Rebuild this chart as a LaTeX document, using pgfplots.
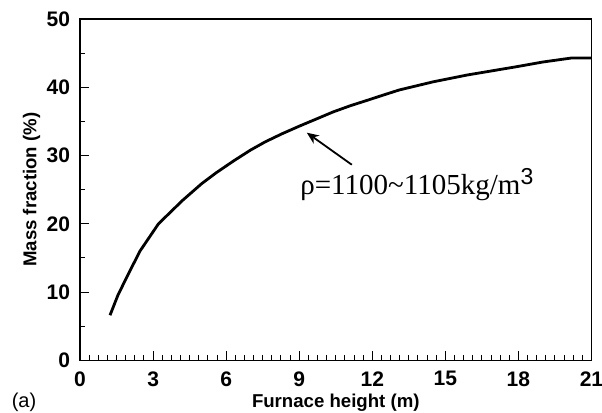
\documentclass[border=0pt]{standalone}
\usepackage{pgfplots}
\pgfplotsset{compat=1.18}
\usepackage{fontspec}
\setmainfont{Liberation Sans}
\newfontfamily\seriffont{Liberation Serif}
\usetikzlibrary{arrows.meta}
\begin{document}
\begin{tikzpicture}
\path[use as bounding box] (-40pt,-26pt) rectangle (260.75pt,180pt);
\begin{axis}[at={(0,0)}, anchor=south west, scale only axis,
  width=255.5pt, height=170.5pt,
  xmin=0, xmax=21, ymin=0, ymax=50,
  xtick={0,3,...,21}, ytick={0,10,...,50},
  minor x tick num=7, minor y tick num=1,
  tick pos=left, tick align=inside,
  major tick length=4.5pt, minor tick length=2.5pt,
  axis line style={line width=0.6pt},
  every tick/.style={line width=0.5pt, black},
  /pgf/number format/assume math mode=true,
  tick label style={font=\bfseries\fontsize{10.5}{11}\selectfont},
  xticklabel style={yshift=-2pt},
  yticklabel style={xshift=-1.5pt},
  xlabel={Furnace height (m)}, ylabel={Mass fraction (\%)},
  label style={font=\bfseries\fontsize{9.3}{10}\selectfont},
  xlabel style={at={(axis description cs:0.5,-0.124)}, anchor=center},
  ylabel style={at={(axis description cs:-0.095,0.5)}, anchor=center},
  clip=false]
\addplot[black, line width=1.4pt, line join=round] coordinates {
(1.23,6.6) (1.55,9.5) (1.92,12.2) (2.46,16.0) (3.22,20.0) (4.2,23.4) (5.0,25.9) (5.6,27.5) (6.3,29.2) (7.0,30.8)
(7.6,32.0) (8.3,33.2) (9.0,34.3) (9.4,34.9) (10.4,36.4) (11.1,37.3) (11.8,38.1) (12.4,38.8) (13.1,39.6)
(13.8,40.2) (14.5,40.8) (15.2,41.3) (15.9,41.8) (16.9,42.4) (17.9,43.0) (19.0,43.7) (20.2,44.3) (21,44.3)
};
\draw[-{Stealth[length=6pt,width=5pt]}, line width=0.9pt] (axis cs:11.16,28.65) -- (axis cs:9.31,33.35);
\node[anchor=base west, inner sep=0, font=\seriffont\fontsize{14.5}{16}\selectfont] at (axis cs:9.03,24.24)
  {ρ=1100\textasciitilde 1105kg/m\raisebox{5pt}{\normalfont\fontsize{11.5}{12}\selectfont 3}};
\end{axis}
\node[font=\fontsize{10}{12}\selectfont] at (-28pt,-21pt) {(a)};
\end{tikzpicture}
\end{document}
